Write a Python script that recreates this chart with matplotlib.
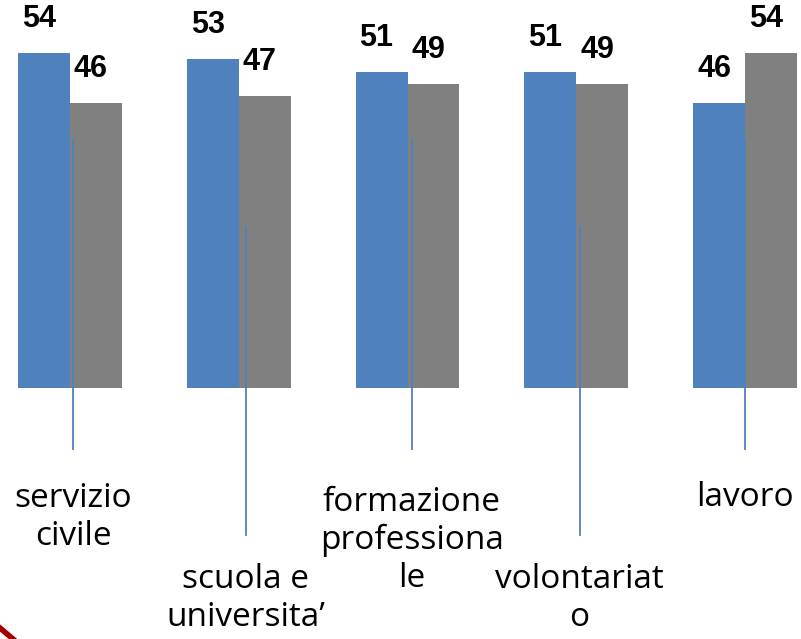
import numpy as np
import matplotlib.pyplot as plt
from matplotlib.lines import Line2D

categories = ["servizio\ncivile", "scuola e\nuniversita’", "formazione\nprofessiona\nle",
              "volontariat\no", "lavoro"]
serie_blu = [54, 53, 51, 51, 46]
serie_grigia = [46, 47, 49, 49, 54]

# where the category label sits (y, in data units) and where its leader line starts
label_y = [-20.8, -34.0, -24.6, -34.0, -17.7]
line_top = [40, 26, 40, 26, 40]
line_bot = [-9.9, -23.7, -9.9, -23.7, -9.9]
label_dx = [0.02, 0.04, 0.025, 0.02, 0.0]

blue = "#4F81BD"
gray = "#808080"

fig = plt.figure(figsize=(8.01, 6.39), dpi=100)
ax = fig.add_axes([0, 0, 1, 1])

x = np.arange(len(categories))
w = 0.308
b1 = ax.bar(x - w / 2, serie_blu, w, color=blue, zorder=1)
b2 = ax.bar(x + w / 2, serie_grigia, w, color=gray, zorder=1)

for bars, vals in ((b1, serie_blu), (b2, serie_grigia)):
    for r, v in zip(bars, vals):
        ax.annotate(str(v), (r.get_x() + r.get_width() / 2, v),
                    xytext=(-5, 19), textcoords="offset pixels",
                    ha="center", va="bottom", fontsize=22, fontweight="bold",
                    family="Liberation Sans", color="black")

for i, lab in enumerate(categories):
    xc = x[i] + label_dx[i]
    ax.plot([xc, xc], [line_top[i], line_bot[i]], color=blue, lw=1.3, zorder=2,
            clip_on=False)
    ax.text(xc, label_y[i], lab, ha="center", va="center", fontsize=24,
            family="Open Sans", linespacing=1.2, color="black")

ax.set_xlim(-70 / 168.75, 4 + 56 / 168.75)
ax.set_ylim(-251 / 6.204, 388 / 6.204)
ax.axis("off")

# red corner stroke at the bottom left
fig.add_artist(Line2D([0, 13 / 801], [11 / 639, 0], color="#A50000", lw=4,
                      transform=fig.transFigure))

plt.savefig("out.png", dpi=100)
